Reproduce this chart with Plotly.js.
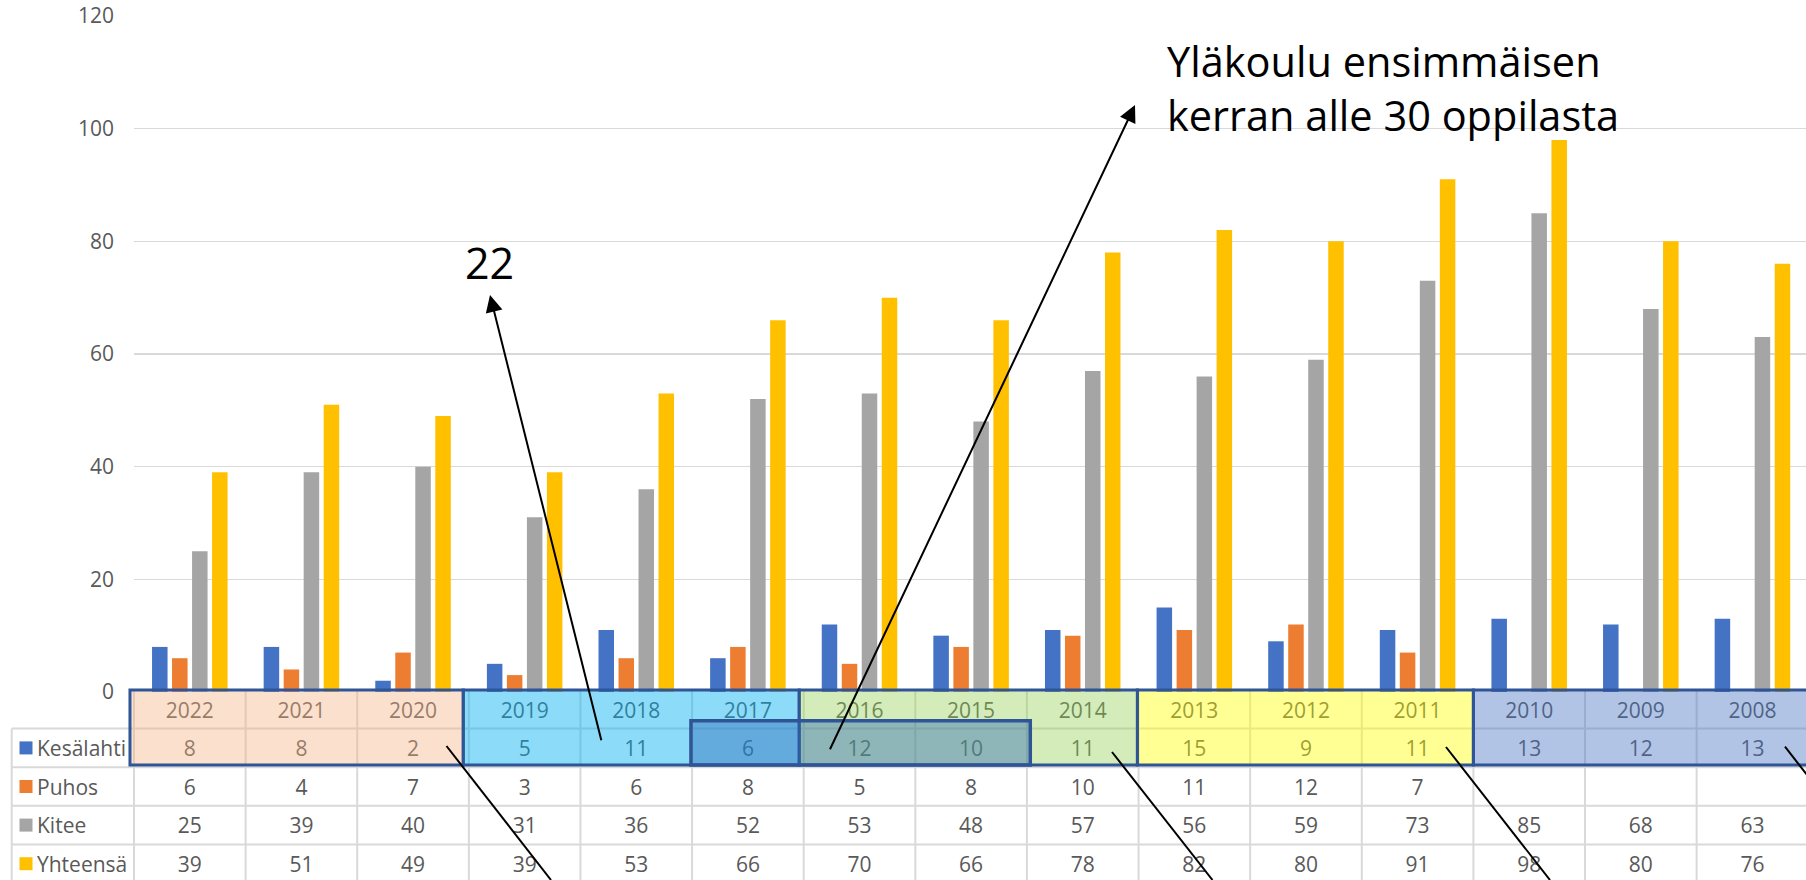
<!DOCTYPE html>
<html><head><meta charset="utf-8">
<script src="https://cdn.plot.ly/plotly-3.0.1.min.js"></script>
<style>html,body{margin:0;padding:0;overflow:hidden;background:#fff}</style>
</head><body>
<div id="chart" style="width:1806px;height:880px"></div>
<script>
// ---- data ----
const years = ['2022','2021','2020','2019','2018','2017','2016','2015','2014','2013','2012','2011','2010','2009','2008'];
const seriesNames = ['Kesälahti','Puhos','Kitee','Yhteensä'];
const kesalahti = [8,8,2,5,11,6,12,10,11,15,9,11,13,12,13];
const puhos = [6,4,7,3,6,8,5,8,10,11,12,7,null,null,null];
const kitee = [25,39,40,31,36,52,53,48,57,56,59,73,85,68,63];
const yhteensa = [39,51,49,39,53,66,70,66,78,82,80,91,98,80,76];
const yTicks = [0,20,40,60,80,100,120];
const noteNumber = '22';
const noteLines = ['Yläkoulu ensimmäisen','kerran alle 30 oppilasta'];

// ---- style / geometry ----
const FONT = "'Open Sans', sans-serif";
const TXT = '#595959';
const FS = 21;
const colors = ['#4472C4','#ED7D31','#A5A5A5','#FFC000'];
const W = 1806, H = 880;
const PLOT_L = 134, ZERO_Y = 692, TOP_Y = 16;
const XR = [-0.5, 14.48];
const PXU = (W - PLOT_L) / (XR[1] - XR[0]);
const X2MIN = XR[0] - PLOT_L / PXU;
const TABLE_TOP = 690, ROWH = 38.6, Y2TOP = 682;
const px2x = px => X2MIN + px / PXU;
const py2r = py => (py - TABLE_TOP) / ROWH;
const PX = px => px / W, PY = py => (H - py) / H;

const series = [kesalahti, puhos, kitee, yhteensa];
const traces = series.map((vals, k) => ({
  type: 'bar', x: years, y: vals, name: seriesNames[k],
  marker: {color: colors[k], line: {width: 0}}, showlegend: false, hoverinfo: 'x+y+name'
}));

// table text
const cx = [], cy = [], ct = [];
const TEXT_DY = 0.08;
years.forEach((yr, i) => { cx.push(i); cy.push(0.5 + TEXT_DY); ct.push(yr); });
series.forEach((arr, r) => arr.forEach((v, i) => {
  if (v !== null && v !== undefined) { cx.push(i); cy.push(r + 1.5 + TEXT_DY); ct.push(String(v)); }
}));
traces.push({
  type: 'scatter', mode: 'text', x: cx, y: cy, text: ct, xaxis: 'x2', yaxis: 'y2',
  textposition: 'middle center', textfont: {family: FONT, size: FS, color: TXT},
  showlegend: false, hoverinfo: 'skip', cliponaxis: false
});
// legend column
traces.push({
  type: 'scatter', mode: 'markers', xaxis: 'x2', yaxis: 'y2',
  x: seriesNames.map(() => px2x(26)), y: seriesNames.map((_, r) => r + 1.5),
  marker: {symbol: 'square', size: 13, color: colors, line: {width: 0}},
  showlegend: false, hoverinfo: 'skip', cliponaxis: false
});
traces.push({
  type: 'scatter', mode: 'text', xaxis: 'x2', yaxis: 'y2',
  x: seriesNames.map(() => px2x(37)), y: seriesNames.map((_, r) => r + 1.5 + TEXT_DY),
  text: seriesNames, textposition: 'middle right',
  textfont: {family: FONT, size: FS, color: TXT},
  showlegend: false, hoverinfo: 'skip', cliponaxis: false
});

// shapes
const shapes = [];
const GRID = {color: '#D9D9D9', width: 2};
const legendLeft = px2x(11.7);
const nRows = 5;
for (let r = 0; r <= nRows; r++) {
  shapes.push({type: 'line', xref: 'x2', yref: 'y2', layer: 'below',
    x0: r === 0 ? -0.5 : legendLeft, x1: XR[1] + 1, y0: r, y1: r, line: GRID});
}
shapes.push({type: 'line', xref: 'x2', yref: 'y2', layer: 'below',
  x0: legendLeft, x1: legendLeft, y0: 1, y1: nRows + 0.5, line: GRID});
for (let k = 0; k <= years.length; k++) {
  shapes.push({type: 'line', xref: 'x2', yref: 'y2', layer: 'below',
    x0: -0.5 + k, x1: -0.5 + k, y0: 0, y1: nRows + 0.5, line: GRID});
}
// colored groups
const bounds = [-0.536, 2.45, 5.46, 8.49, 11.5, 14.8];
const fills = ['rgba(244,177,131,0.40)','rgba(0,176,240,0.45)','rgba(146,208,80,0.40)','rgba(255,255,0,0.42)','rgba(68,114,196,0.42)'];
const BORDER = '#2F5597';
const grpBottom = py2r(765);
fills.forEach((f, g) => {
  shapes.push({type: 'rect', xref: 'x2', yref: 'y2', layer: 'above',
    x0: bounds[g], x1: bounds[g + 1], y0: 0, y1: grpBottom,
    fillcolor: f, line: {color: BORDER, width: 3}});
});
shapes.push({type: 'rect', xref: 'x2', yref: 'y2', layer: 'above',
  x0: 4.49, x1: 7.53, y0: py2r(720.7), y1: grpBottom,
  fillcolor: 'rgba(40,100,180,0.40)', line: {color: BORDER, width: 3.5}});
// plain pointer lines
const lines = [[446.5,746,551,880],[1112,752,1212.5,880],[1446,747,1550,880],[1785,746.7,1889,880]];
lines.forEach(l => shapes.push({type: 'line', xref: 'paper', yref: 'paper', layer: 'above',
  x0: PX(l[0]), y0: PY(l[1]), x1: PX(l[2]), y1: PY(l[3]), line: {color: '#000', width: 2}}));

const annotations = [
  {xref: 'paper', yref: 'paper', x: PX(490), y: PY(295), ax: 111.7, ay: 446.7, text: '',
   showarrow: true, arrowhead: 2, arrowsize: 1.7, arrowwidth: 2, arrowcolor: '#000', standoff: 0, font: {size: 1}},
  {xref: 'paper', yref: 'paper', x: PX(1135), y: PY(105), ax: -305.7, ay: 645.7, text: '',
   showarrow: true, arrowhead: 2, arrowsize: 1.7, arrowwidth: 2, arrowcolor: '#000', standoff: 0, font: {size: 1}},
  {xref: 'paper', yref: 'paper', x: PX(489.5), y: PY(262), text: noteNumber, showarrow: false,
   xanchor: 'center', yanchor: 'middle', font: {family: FONT, size: 43, color: '#000'}},
  {xref: 'paper', yref: 'paper', x: PX(1165), y: PY(31), text: noteLines.join('<br>'), showarrow: false,
   xanchor: 'left', yanchor: 'top', align: 'left', font: {family: FONT, size: 41.5, color: '#000'}}
];

const layout = {
  width: W, height: H, margin: {l: 0, r: 0, t: 0, b: 0},
  paper_bgcolor: '#fff', plot_bgcolor: 'rgba(0,0,0,0)',
  barmode: 'group', bargap: 0.283, bargroupgap: 0.225,
  font: {family: FONT, color: TXT},
  xaxis: {type: 'category', domain: [PLOT_L / W, 1], range: XR, showticklabels: false,
    showgrid: false, zeroline: false, showline: false, ticks: '', fixedrange: true},
  yaxis: {domain: [PY(ZERO_Y), PY(TOP_Y)], range: [0, 120], tickvals: yTicks, ticktext: yTicks.map(String),
    showgrid: true, gridcolor: '#D9D9D9', gridwidth: 1.5, zeroline: false, showline: false,
    ticks: '', ticklabelstandoff: 19, tickfont: {family: FONT, size: FS, color: TXT}, fixedrange: true},
  xaxis2: {domain: [0, 1], range: [X2MIN, XR[1]], anchor: 'y2', visible: false, fixedrange: true},
  yaxis2: {domain: [0, PY(Y2TOP)], range: [py2r(H), py2r(Y2TOP)], anchor: 'x2', visible: false, fixedrange: true},
  shapes: shapes, annotations: annotations, showlegend: false
};
Plotly.newPlot('chart', traces, layout, {displayModeBar: false, staticPlot: true});
</script>
</body></html>
